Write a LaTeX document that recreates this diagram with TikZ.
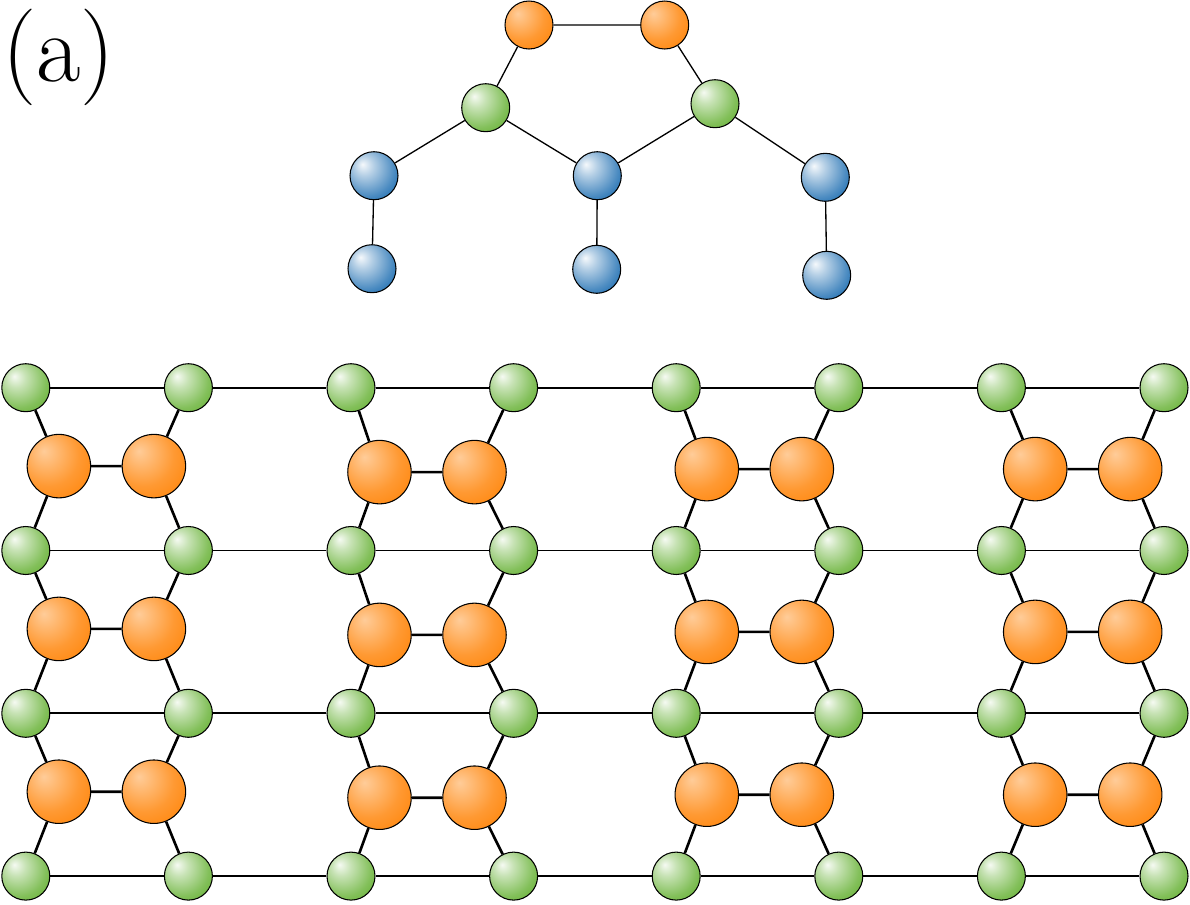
\documentclass[tikz,border=0pt]{standalone}

\definecolor{tang}{RGB}{255,128,0}
\definecolor{leaf}{RGB}{96,174,44}
\definecolor{sky}{RGB}{8,96,170}

\pgfdeclareradialshading{tangball}{\pgfpoint{-12bp}{12bp}}{%
  color(0bp)=(tang!40!white); color(24bp)=(tang!80!white);
  color(44bp)=(tang); color(80bp)=(tang)}
\pgfdeclareradialshading{leafball}{\pgfpoint{-12bp}{12bp}}{%
  color(0bp)=(leaf!6!white); color(10bp)=(leaf!35!white);
  color(28bp)=(leaf!78!white); color(42bp)=(leaf); color(70bp)=(leaf!85!black)}
\pgfdeclareradialshading{skyball}{\pgfpoint{-12bp}{12bp}}{%
  color(0bp)=(sky!4!white); color(10bp)=(sky!30!white);
  color(28bp)=(sky!72!white); color(42bp)=(sky); color(70bp)=(sky!85!black)}

\begin{document}
\begin{tikzpicture}[
    x=0.02cm, y=-0.02cm,
    atom/.style={circle, draw, line width=0.6pt, inner sep=0pt, minimum size=0.96cm},
    greenatom/.style={atom, shading=leafball},
    blueatom/.style={atom, shading=skyball},
    smallorange/.style={atom, shading=tangball},
    bigorange/.style={atom, shading=tangball, minimum size=1.27cm},
    thinbond/.style={line width=0.75pt},
    bond/.style={line width=1pt},
    thickbond/.style={line width=1.5pt}
  ]
    \useasboundingbox (0,0) rectangle (1190,904);

    % Label --------------------------------------------------------
    \node[anchor=base west, inner sep=0pt, font=\fontsize{55}{60}\selectfont]
      (lab) at (2,81) {(a)};

    % Single unit (top) --------------------------------------------
    \node[smallorange] (o1) at (529,25) {};
    \node[smallorange] (o2) at (664.7,25) {};
    \node[greenatom] (n1) at (485.7,107.7) {};
    \node[greenatom] (n2) at (715,103.7) {};
    \node[blueatom] (b1) at (374,175.7) {};
    \node[blueatom] (b2) at (597.3,175.7) {};
    \node[blueatom] (b3) at (825.3,177.3) {};
    \node[blueatom] (b4) at (372,268.7) {};
    \node[blueatom] (b5) at (596.7,269.3) {};
    \node[blueatom] (b6) at (826.7,275.3) {};

    \draw[thinbond] (o1) -- (o2) (o1) -- (n1) (o2) -- (n2)
      (n1) -- (b1) (n1) -- (b2) (n2) -- (b2) (n2) -- (b3)
      (b1) -- (b4) (b2) -- (b5) (b3) -- (b6);

    % Lattice: green grid ------------------------------------------
    \foreach \i in {0,...,7}
      \foreach \j in {0,...,3}
        \node[greenatom] (g-\i-\j) at ({25.8+162.6*\i},{387.7+162.8*\j}) {};

    \foreach \j in {0,...,3}
      \foreach \i [count=\k] in {0,...,6}
        \draw[bond] (g-\i-\j) -- (g-\k-\j);

    % Lattice: orange pairs ----------------------------------------
    \foreach \b/\cx/\dy in {0/106.4/-3, 1/427/3, 2/754.3/0, 3/1082.7/0}{
      \pgfmathtruncatemacro\gl{2*\b}
      \pgfmathtruncatemacro\gr{2*\b+1}
      \foreach \j [count=\jn] in {0,1,2}{
        \node[bigorange] (l-\b-\j) at ({\cx-47.5},{469.1+162.8*\j+\dy}) {};
        \node[bigorange] (r-\b-\j) at ({\cx+47.5},{469.1+162.8*\j+\dy}) {};
        \draw[thickbond] (l-\b-\j) -- (r-\b-\j)
          (g-\gl-\j) -- (l-\b-\j) -- (g-\gl-\jn)
          (g-\gr-\j) -- (r-\b-\j) -- (g-\gr-\jn);
      }
    }

  \end{tikzpicture}
\end{document}
